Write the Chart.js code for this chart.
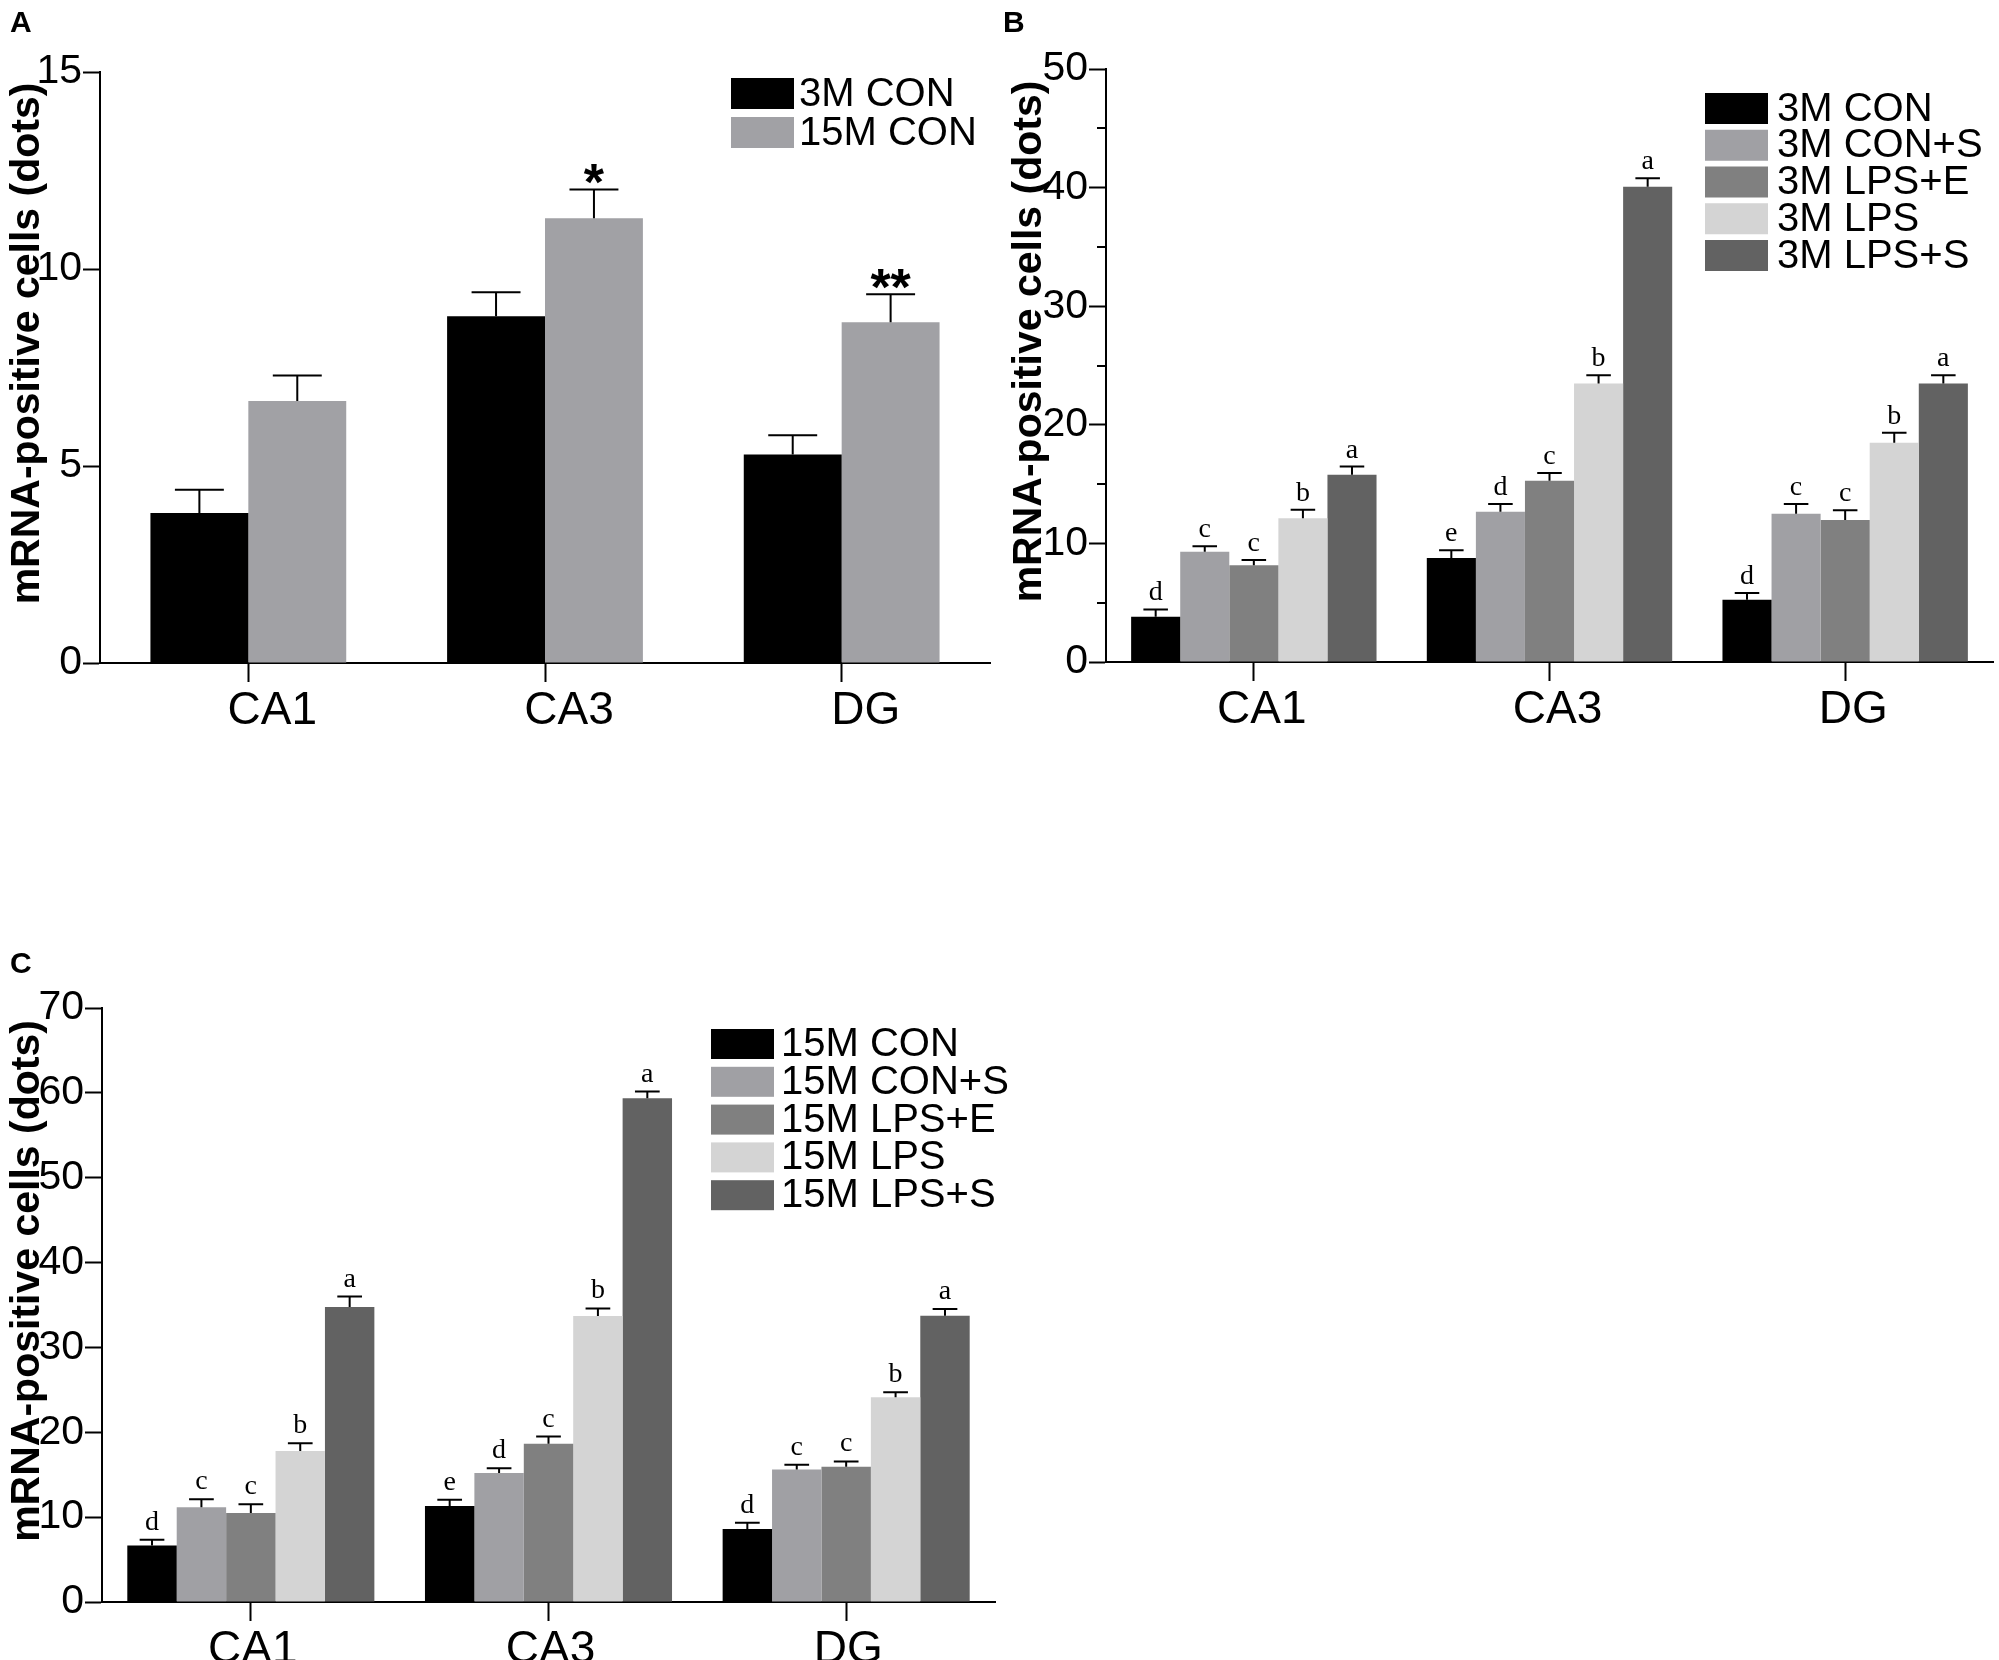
<!DOCTYPE html>
<html>
<head>
<meta charset="utf-8">
<script src="https://cdn.jsdelivr.net/npm/chart.js@4.4.1/dist/chart.umd.min.js"></script>
<style>
  html, body { margin: 0; padding: 0; background: #fff; }
  #page { position: relative; width: 1999px; height: 1660px; overflow: hidden; background: #fff; }
  canvas { position: absolute; }
</style>
</head>
<body>
<div id="page">
  <canvas id="chartA" width="1000" height="760" style="left:0;top:0"></canvas>
  <canvas id="chartB" width="999" height="760" style="left:1000px;top:0"></canvas>
  <canvas id="chartC" width="1100" height="760" style="left:0;top:900px"></canvas>
</div>
<script>
const regions = ['CA1', 'CA3', 'DG'];

// A - control groups, 3 vs 15 months
const groupsA = ['3M CON', '15M CON'];
const meansA = [[3.81, 8.80, 5.29], [6.65, 11.29, 8.65]];
const semA = [[0.59, 0.61, 0.49], [0.65, 0.73, 0.71]];
const marksA = [['', '', ''], ['', '*', '**']];
const ticksA = [0, 5, 10, 15];

// B - 3 month old groups
const groupsB = ['3M CON', '3M CON+S', '3M LPS+E', '3M LPS', '3M LPS+S'];
const meansB = [
  [3.81, 8.77, 5.25],
  [9.30, 12.66, 12.50],
  [8.16, 15.29, 11.97],
  [12.13, 23.48, 18.48],
  [15.78, 40.08, 23.48]
];
const semB = [
  [0.62, 0.66, 0.57],
  [0.45, 0.66, 0.82],
  [0.44, 0.65, 0.82],
  [0.70, 0.70, 0.86],
  [0.70, 0.70, 0.70]
];
const lettersB = [['d', 'e', 'd'], ['c', 'd', 'c'], ['c', 'c', 'c'], ['b', 'b', 'b'], ['a', 'a', 'a']];
const ticksB = [0, 10, 20, 30, 40, 50];
const minorB = [5, 15, 25, 35, 45];

// C - 15 month old groups
const groupsC = ['15M CON', '15M CON+S', '15M LPS+E', '15M LPS', '15M LPS+S'];
const meansC = [
  [6.65, 11.30, 8.60],
  [11.18, 15.20, 15.60],
  [10.50, 18.64, 15.94],
  [17.78, 33.70, 24.14],
  [34.75, 59.35, 33.72]
];
const semC = [
  [0.69, 0.74, 0.75],
  [0.92, 0.57, 0.57],
  [1.02, 0.86, 0.63],
  [0.92, 0.90, 0.57],
  [1.25, 0.80, 0.80]
];
const lettersC = [['d', 'e', 'd'], ['c', 'd', 'c'], ['c', 'c', 'c'], ['b', 'b', 'b'], ['a', 'a', 'a']];
const ticksC = [0, 10, 20, 30, 40, 50, 60, 70];

const colorsA = ['#000000', '#a1a1a5'];
const colorsBC = ['#000000', '#a0a0a4', '#808080', '#d4d4d4', '#626262'];

const yTitle = 'mRNA-positive cells (dots)';
const SANS = '"Liberation Sans", Arial, sans-serif';
const NARROW = '"Liberation Sans Narrow", "Arial Narrow", "Liberation Sans", sans-serif';

// error bars, letters, legend, axis title, panel letter
const extras = {
  id: 'extras',
  afterDatasetsDraw(chart, args, o) {
    const ctx = chart.ctx;
    const y = chart.scales.y;
    ctx.save();
    chart.data.datasets.forEach((ds, i) => {
      chart.getDatasetMeta(i).data.forEach((bar, j) => {
        const top = y.getPixelForValue(ds.data[j] + ds.sem[j]);
        const half = bar.width / 4;
        ctx.strokeStyle = '#000';
        ctx.lineWidth = 2;
        ctx.beginPath();
        ctx.moveTo(bar.x, bar.y);
        ctx.lineTo(bar.x, top);
        ctx.moveTo(bar.x - half, top);
        ctx.lineTo(bar.x + half, top);
        ctx.stroke();
        const m = ds.marks[j];
        if (m) {
          ctx.fillStyle = '#000';
          ctx.font = o.markFont;
          ctx.textAlign = 'center';
          ctx.textBaseline = 'alphabetic';
          ctx.fillText(m, bar.x, top + o.markShift);
        }
      });
    });
    ctx.restore();
  },
  afterDraw(chart, args, o) {
    const ctx = chart.ctx;
    const area = chart.chartArea;
    const y = chart.scales.y;
    ctx.save();
    ctx.fillStyle = '#000';
    ctx.strokeStyle = '#000';
    ctx.lineWidth = 2;

    // minor ticks
    (o.minor || []).forEach(v => {
      const py = Math.round(y.getPixelForValue(v));
      ctx.beginPath();
      ctx.moveTo(area.left - 9, py);
      ctx.lineTo(area.left, py);
      ctx.stroke();
    });

    // y axis title
    ctx.save();
    ctx.translate(o.titleX, (area.top + area.bottom) / 2 - 24);
    ctx.rotate(-Math.PI / 2);
    ctx.font = 'bold 41px ' + SANS;
    ctx.textAlign = 'center';
    ctx.textBaseline = 'middle';
    ctx.fillText(yTitle, 0, 0);
    ctx.restore();

    // legend inside plot
    const lg = o.legend;
    ctx.font = lg.size + 'px ' + SANS;
    ctx.textAlign = 'left';
    ctx.textBaseline = 'middle';
    chart.data.datasets.forEach((ds, i) => {
      const top = lg.y + i * lg.step;
      ctx.fillStyle = ds.backgroundColor;
      ctx.fillRect(lg.x, top, lg.w, lg.h);
      ctx.fillStyle = '#000';
      ctx.fillText(ds.label, lg.textX, top + lg.h / 2 + 1);
    });

    // panel letter
    ctx.font = 'bold 30px ' + SANS;
    ctx.textBaseline = 'alphabetic';
    ctx.fillText(o.panel, o.panelX, o.panelY);
    ctx.restore();
  }
};

function buildDatasets(groups, means, sems, marks, colors, catPct) {
  return groups.map((g, i) => ({
    label: g,
    data: means[i],
    sem: sems[i],
    marks: marks[i],
    backgroundColor: colors[i],
    borderWidth: 0,
    categoryPercentage: catPct,
    barPercentage: 1
  }));
}

function makeChart(id, datasets, ticks, lay, extraOpts) {
  return new Chart(document.getElementById(id), {
    type: 'bar',
    data: { labels: regions, datasets: datasets },
    plugins: [extras],
    options: {
      responsive: false,
      animation: false,
      devicePixelRatio: 1,
      layout: { padding: { top: lay.top, right: lay.right, left: 0, bottom: 0 } },
      plugins: {
        legend: { display: false },
        tooltip: { enabled: false },
        extras: extraOpts
      },
      scales: {
        x: {
          z: 1,
          offset: true,
          grid: { offset: false, drawOnChartArea: false, tickLength: 19, tickWidth: 2, tickColor: '#000' },
          border: { color: '#000', width: 2 },
          ticks: {
            color: '#000', font: { family: SANS, size: 46 }, padding: 2,
            maxRotation: 0, autoSkip: false, labelOffset: lay.labelShift
          },
          afterFit: s => { s.height = lay.xHeight; }
        },
        y: {
          z: 1,
          min: 0,
          max: ticks[ticks.length - 1],
          afterBuildTicks: s => { s.ticks = ticks.map(v => ({ value: v })); },
          grid: { drawOnChartArea: false, tickLength: 17, tickWidth: 2, tickColor: '#000' },
          border: { color: '#000', width: 2 },
          ticks: { color: '#000', font: { family: NARROW, size: 41 }, padding: 1 },
          afterFit: s => { s.width = lay.yWidth; }
        }
      }
    }
  });
}

// A
makeChart('chartA',
  buildDatasets(groupsA, meansA, semA, marksA, colorsA, 0.66),
  ticksA,
  { top: 72, right: 10, yWidth: 100, xHeight: 97, labelShift: 24 },
  {
    markFont: 'bold 52px ' + SANS, markShift: 11,
    titleX: 28, panel: 'A', panelX: 10, panelY: 32,
    legend: { x: 731, y: 78, w: 63, h: 31, step: 39, textX: 799, size: 40 }
  });

// B
makeChart('chartB',
  buildDatasets(groupsB, meansB, semB, lettersB, colorsBC, 0.83),
  ticksB,
  { top: 69, right: 6, yWidth: 106, xHeight: 98, labelShift: 8 },
  {
    markFont: '28px "Liberation Serif", "Times New Roman", serif', markShift: -9,
    minor: minorB,
    titleX: 30, panel: 'B', panelX: 3, panelY: 32,
    legend: { x: 705, y: 93, w: 63, h: 31, step: 36.75, textX: 777, size: 40 }
  });

// C
makeChart('chartC',
  buildDatasets(groupsC, meansC, semC, lettersC, colorsBC, 0.83),
  ticksC,
  { top: 108, right: 105, yWidth: 102, xHeight: 58, labelShift: 2 },
  {
    markFont: '28px "Liberation Serif", "Times New Roman", serif', markShift: -10,
    titleX: 28, panel: 'C', panelX: 10, panelY: 73,
    legend: { x: 711, y: 129, w: 63, h: 30, step: 37.8, textX: 781, size: 40 }
  });
</script>
</body>
</html>
